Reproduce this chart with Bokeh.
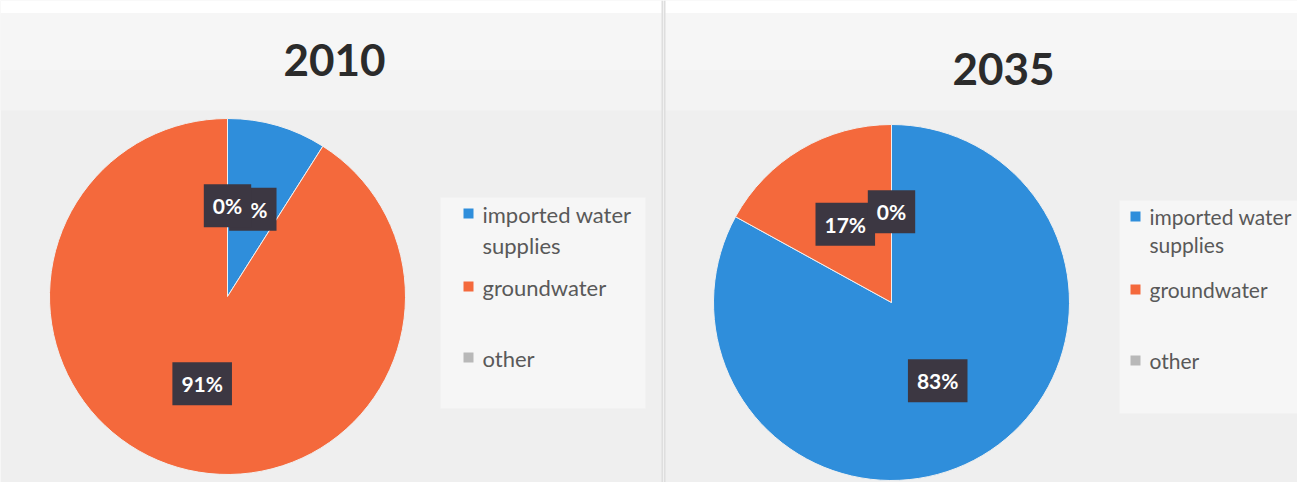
import numpy as np
from bokeh.plotting import figure
from bokeh.models import ColumnDataSource, Range1d, BoxAnnotation, Span, CDSView, BooleanFilter
from bokeh.layouts import row
from bokeh.core.properties import value
from bokeh.embed import file_html
from bokeh.resources import INLINE

# ---------------- data ----------------
years = ["2010", "2035"]
categories = ["imported water supplies", "groundwater", "other"]
legend_labels = ["imported water\nsupplies", "groundwater", "other"]
share_2010 = [9, 91, 0]
share_2035 = [83, 17, 0]
colors = ["#2f8edb", "#f4693c", "#b8b8b8"]

# ---------------- layout (pixel units) ----------------
H = 482
Y_TOP, Y_BOT = 0, -482
panels = [
    dict(x0=0, x1=663, cx=227, cy=296, tx=334, ty=59, lx=468, ly=213, lfs="22px",
         box=(440, 645, 197, 408)),
    dict(x0=663, x1=1297, cx=891, cy=302, tx=1003, ty=68, lx=1135, ly=216, lfs="21px",
         box=(1119, 1297, 200, 413)),
]
R = 178
LABEL_R = 0.51 * R
ROW_OFF = [0, 73, 144]
BG = "#efefef"


def make_panel(year, shares, lay):
    w = lay["x1"] - lay["x0"]
    p = figure(width=w, height=H,
               x_range=Range1d(lay["x0"], lay["x1"]),
               y_range=Range1d(Y_BOT, Y_TOP),
               output_backend="svg", toolbar_location=None,
               x_axis_type=None, y_axis_type=None, min_border=0,
               background_fill_color=BG, border_fill_color=BG,
               outline_line_color=None)
    p.grid.visible = False

    # scanned-page background zones
    p.add_layout(BoxAnnotation(top=Y_TOP, bottom=-13, fill_color="white", fill_alpha=1,
                               line_color=None, level="underlay"))
    p.add_layout(BoxAnnotation(top=-13, bottom=-70, fill_color="#f6f6f6", fill_alpha=1,
                               line_color=None, level="underlay"))
    p.add_layout(BoxAnnotation(top=-70, bottom=-110, fill_color="#f3f3f3", fill_alpha=1,
                               line_color=None, level="underlay"))
    bl, br, bt, bb = lay["box"]
    p.add_layout(BoxAnnotation(left=bl, right=br, top=-bt, bottom=-bb, fill_color="#f6f6f6",
                               fill_alpha=1, line_color=None, level="underlay"))
    p.add_layout(Span(location=lay["x0"] + 1 if lay["x0"] > 0 else lay["x1"] - 1,
                      dimension="height", line_color="#dedede", line_width=2))

    # pie
    vals = np.array(shares, dtype=float)
    cum = np.concatenate([[0.0], np.cumsum(vals / vals.sum())])
    start = np.pi / 2 - 2 * np.pi * cum[:-1]
    end = np.pi / 2 - 2 * np.pi * cum[1:]
    mid = (start + end) / 2
    cx, cy = lay["cx"], -lay["cy"]
    src = ColumnDataSource(dict(
        cat=categories, share=shares, color=colors, start=start, end=end,
        lx=cx + LABEL_R * np.cos(mid), ly=cy + LABEL_R * np.sin(mid),
        label=[f"{v}%" for v in shares],
    ))
    view = CDSView(filter=BooleanFilter([v > 0 for v in shares]))
    p.wedge(x=cx, y=cy, radius=R, start_angle="start", end_angle="end",
            direction="clock", fill_color="color", line_color="#f0f0f0",
            line_width=1, source=src, view=view)

    # data labels
    p.text(x="lx", y="ly", text="label", source=src,
           text_align="center", text_baseline="middle",
           text_font=value("Lato"), text_font_style="bold", text_font_size="21px",
           text_color="white", background_fill_color="#3c3742",
           padding=dict(left=9, right=9, top=9, bottom=9))

    # title
    p.text(x=[lay["tx"]], y=[-lay["ty"]], text=[year], text_align="center",
           text_baseline="middle", text_font=value("Lato"), text_font_style="bold",
           text_font_size="44px", text_color="#2b2b2b")

    # legend
    ys = [-(lay["ly"] + o) for o in ROW_OFF]
    leg = ColumnDataSource(dict(x=[lay["lx"]] * 3, tx=[lay["lx"] + 14] * 3, y=ys,
                                ty=[y + 13 for y in ys], label=legend_labels, color=colors))
    p.scatter(x="x", y="y", marker="square", size=10, fill_color="color",
              line_color=None, source=leg)
    p.text(x="tx", y="ty", text="label", source=leg, text_align="left",
           text_baseline="top", text_font=value("Lato"), text_font_size=lay["lfs"],
           text_color="#595959", text_line_height=1.15)
    return p


p1 = make_panel(years[0], share_2010, panels[0])
p2 = make_panel(years[1], share_2035, panels[1])
layout = row(p1, p2, spacing=0)

open("out.html", "w").write(file_html(layout, INLINE))
